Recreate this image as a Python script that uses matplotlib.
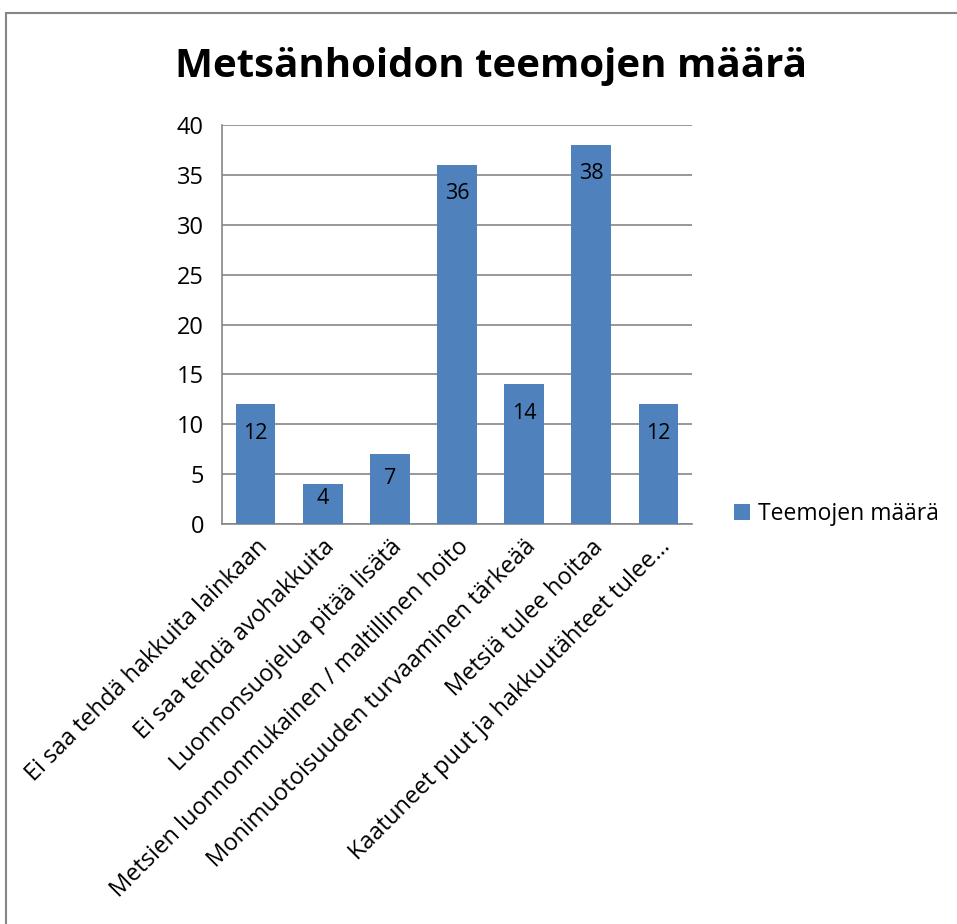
import numpy as np
import matplotlib.pyplot as plt
from matplotlib.patches import Rectangle

categories = [
    'Ei saa tehdä hakkuita lainkaan',
    'Ei saa tehdä avohakkuita',
    'Luonnonsuojelua pitää lisätä',
    'Metsien luonnonmukainen / maltillinen hoito',
    'Monimuotoisuuden turvaaminen tärkeää',
    'Metsiä tulee hoitaa',
    'Kaatuneet puut ja hakkuutähteet tulee…',
]
values = [12, 4, 7, 36, 14, 38, 12]
yticks = [0, 5, 10, 15, 20, 25, 30, 35, 40]

plt.rcParams['font.family'] = ['Open Sans', 'DejaVu Sans']

fig = plt.figure(figsize=(9.57, 9.24), dpi=100)
fig.patch.set_facecolor('white')

# chart frame (right and bottom edges fall outside the image)
fig.patches.append(Rectangle((6/957, -0.1), 1.2, 1.1 - 13/924,
                             transform=fig.transFigure, fill=False,
                             edgecolor='#868686', lw=1.5))

ax = fig.add_axes([222/957, 1 - 524/924, 470/957, 399/924])
x = np.arange(len(values))
ax.bar(x, values, width=0.59, color='#4F81BD', zorder=3, label='Teemojen määrä')

for xi, v in zip(x, values):
    ax.text(xi, max(v - 2.9, 0.65 * v), str(v), ha='center', va='center',
            fontsize=15.5, color='black', zorder=4)

ax.set_xlim(-0.5, len(values) - 0.5)
ax.set_ylim(0, 40)
ax.set_yticks(yticks)
ax.tick_params(axis='y', labelsize=17, length=0, pad=13)
ax.yaxis.grid(True, color='#868686', lw=1.2, zorder=0)
ax.set_xticks(x)
ax.set_xticklabels(categories, rotation=45, ha='right', va='top',
                   rotation_mode='anchor', fontsize=17)
ax.tick_params(axis='x', length=0, pad=8)
for s in ['top', 'right']:
    ax.spines[s].set_visible(False)
for s in ['left', 'bottom']:
    ax.spines[s].set_color('#868686')
    ax.spines[s].set_linewidth(1.2)

fig.text(491/957, 1 - 66/924, 'Metsänhoidon teemojen määrä', ha='center',
         va='center', fontsize=29, fontweight='bold')

fig.legend(loc='center left', bbox_to_anchor=(713/957, 1 - 514/924),
           frameon=False, fontsize=16.5, handlelength=0.7, handleheight=0.7,
           handletextpad=0.35)

plt.savefig('out.png', dpi=100)
